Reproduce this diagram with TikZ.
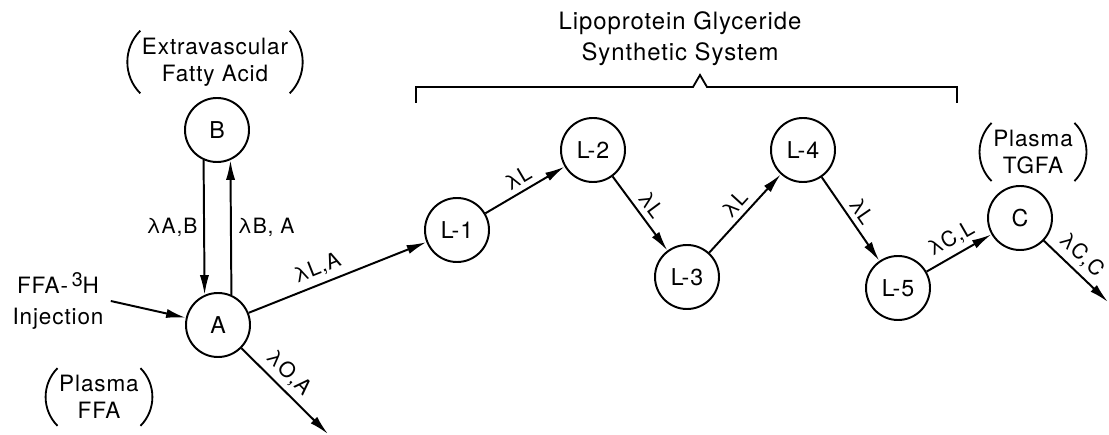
\documentclass[tikz,border=0pt]{standalone}
\usepackage{fontspec}
\setmainfont{TeX Gyre Heros}[LetterSpace=4]
\usepackage{tikz}
\usetikzlibrary{arrows.meta}

\begin{document}
\begin{tikzpicture}[x=0.025cm,y=0.025cm,
    comp/.style={draw,circle,line width=1.4pt,minimum size=1.6cm,inner sep=0pt,font=\fontsize{16.5}{19}\selectfont},
    flow/.style={line width=1.4pt,-{Latex[length=14pt,width=6.5pt]}},
    rate/.style={font=\fontsize{15}{17}\selectfont,inner sep=4pt},
    tag/.style={align=center,inner xsep=1pt,inner ysep=5pt,font=\fontsize{16}{19}\selectfont}]
    \useasboundingbox (0,0) rectangle (1109,434);
    \node[comp] (B) at (217,304) {B};
    \node[comp] (A) at (218,109) {A};
    \node[comp] (L1) at (457,204) {L-1};
    \node[comp] (L2) at (593,284) {L-2};
    \node[comp] (L3) at (687,157) {L-3};
    \node[comp] (L4) at (803,284) {L-4};
    \node[comp] (L5) at (898,146) {L-5};
    \node[comp] (C) at (1020,216) {C};
    \coordinate (Aout) at (328,0);
    \coordinate (Cout) at (1108,132);
    \node[tag,inner xsep=5pt,font=\fontsize{16}{22}\selectfont] (inj) at (58,133) {FFA-\,\raisebox{.55ex}{\fontsize{14}{14}\selectfont 3}H\\Injection};
    \node[tag] (ev) at (215,372) {Extravascular\\Fatty Acid};
    \node[tag] (pf) at (99,37) {Plasma\\FFA};
    \node[tag] (pt) at (1033,282) {Plasma\\TGFA};
    \node[tag,font=\fontsize{17}{22}\selectfont] (lgs) at (680,395) {Lipoprotein Glyceride\\Synthetic System};
    \foreach \n in {ev,pf,pt} {
        \draw[line width=1.3pt] (\n.north west) to[bend right=45] (\n.south west);
        \draw[line width=1.3pt] (\n.north east) to[bend left=45] (\n.south east);
    }
    \draw[line width=1.3pt] (416,331) -- (416,347) -- (693,347) -- (700,359) -- (707,347) -- (957,347) -- (957,331);
    \draw[flow] (B.246) -- node[rate,left] {λA,B} (A.114);
    \draw[flow] (A.66) -- node[rate,right] {λB, A} (B.294);
    \draw[flow] (inj.east) -- (A);
    \draw[flow] (A) -- node[rate,sloped,above,pos=0.42] {λL,A} (L1);
    \draw[flow] (A) -- node[rate,sloped,above,pos=0.42] {λO,A} (Aout);
    \draw[flow] (L1) -- node[rate,sloped,above] {λL} (L2);
    \draw[flow] (L2) -- node[rate,sloped,above] {λL} (L3);
    \draw[flow] (L3) -- node[rate,sloped,above] {λL} (L4);
    \draw[flow] (L4) -- node[rate,sloped,above] {λL} (L5);
    \draw[flow] (L5) -- node[rate,sloped,above] {λC,L} (C);
    \draw[flow] (C) -- node[rate,sloped,above,pos=0.42] {λC,C} (Cout);
\end{tikzpicture}
\end{document}
